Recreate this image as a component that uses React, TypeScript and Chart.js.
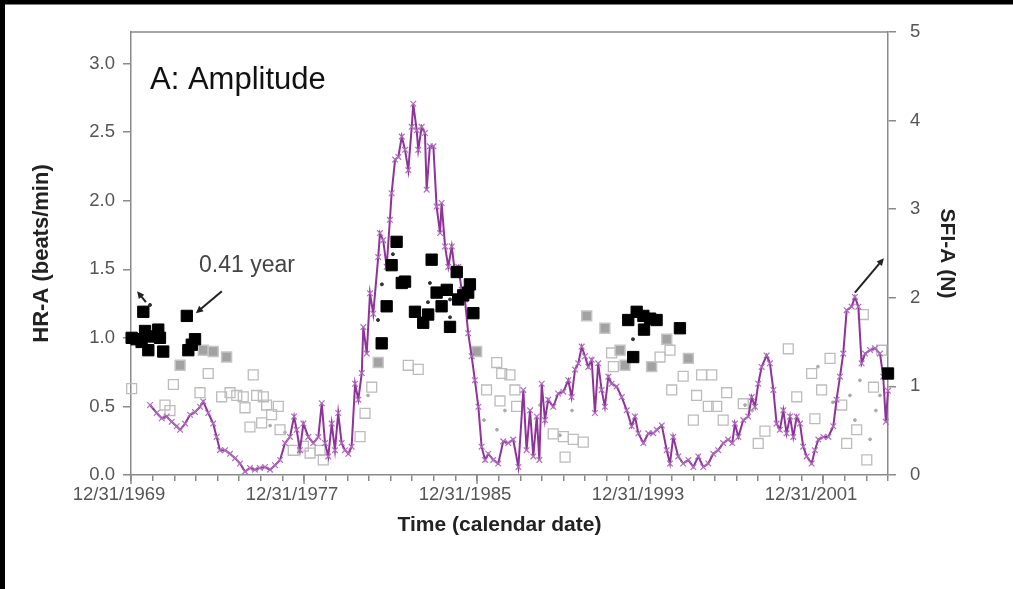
import { useEffect, useRef } from "react";
import { Chart, registerables } from "chart.js";

Chart.register(...registerables);

// SFI-A amplitude (right axis, N) – purple line
const sfiYears = [
  1970.88, 1971.19, 1971.42, 1971.65, 1971.88, 1972.11, 1972.27, 1972.5, 1972.73, 1972.96,
  1973.19, 1973.34, 1973.57, 1973.8, 1973.96, 1974.11, 1974.35, 1974.58, 1974.81, 1975.04,
  1975.27, 1975.5, 1975.73, 1975.96, 1976.2, 1976.43, 1976.66, 1976.89, 1977.12, 1977.35,
  1977.54, 1977.66, 1977.81, 1977.97, 1978.2, 1978.43, 1978.66, 1978.82, 1978.97, 1979.12,
  1979.28, 1979.43, 1979.58, 1979.74, 1979.89, 1980.05, 1980.2, 1980.36, 1980.51, 1980.67,
  1980.74, 1980.9, 1981.05, 1981.2, 1981.43, 1981.51, 1981.66, 1981.82, 1981.97, 1982.05,
  1982.21, 1982.36, 1982.52, 1982.67, 1982.82, 1982.98, 1983.05, 1983.21, 1983.28, 1983.44,
  1983.59, 1983.67, 1983.82, 1983.98, 1984.13, 1984.29, 1984.36, 1984.52, 1984.67, 1984.83,
  1984.98, 1985.13, 1985.29, 1985.44, 1985.59, 1985.75, 1985.9, 1986.06, 1986.21, 1986.37,
  1986.52, 1986.75, 1986.98, 1987.21, 1987.44, 1987.67, 1987.91, 1988.14, 1988.29, 1988.45,
  1988.6, 1988.76, 1988.88, 1988.99, 1989.14, 1989.29, 1989.52, 1989.75, 1989.99, 1990.22,
  1990.37, 1990.53, 1990.68, 1990.84, 1990.99, 1991.14, 1991.3, 1991.45, 1991.6, 1991.76,
  1991.91, 1992.07, 1992.22, 1992.45, 1992.69, 1992.92, 1993.15, 1993.3, 1993.46, 1993.69,
  1993.92, 1994.15, 1994.31, 1994.54, 1994.77, 1994.92, 1995.07, 1995.3, 1995.53, 1995.77,
  1996.0, 1996.23, 1996.46, 1996.69, 1996.92, 1997.15, 1997.38, 1997.61, 1997.8, 1997.92,
  1998.08, 1998.31, 1998.54, 1998.7, 1998.85, 1999.0, 1999.16, 1999.39, 1999.54, 1999.7,
  1999.85, 2000.0, 2000.16, 2000.31, 2000.47, 2000.62, 2000.78, 2000.93, 2001.08, 2001.24,
  2001.47, 2001.62, 2001.78, 2002.01, 2002.24, 2002.47, 2002.62, 2002.78, 2002.93, 2003.09,
  2003.32, 2003.47, 2003.63, 2003.78, 2003.94, 2004.17, 2004.4, 2004.63, 2004.78, 2004.9,
  2005.0,
];
const sfiValues = [
  0.79, 0.7, 0.64, 0.66, 0.6, 0.55, 0.51, 0.58, 0.68, 0.71,
  0.77, 0.83, 0.7, 0.58, 0.43, 0.28, 0.28, 0.24, 0.19, 0.13,
  0.04, 0.08, 0.06, 0.08, 0.09, 0.06, 0.11, 0.17, 0.36, 0.43,
  0.66, 0.51, 0.28, 0.58, 0.43, 0.36, 0.43, 0.81, 0.36, 0.21,
  0.58, 0.28, 0.7, 0.36, 0.28, 0.24, 0.32, 1.03, 0.85, 1.15,
  1.67, 1.37, 2.05, 1.82, 2.46, 2.73, 2.65, 2.35, 2.88, 3.18,
  3.56, 3.59, 3.82, 3.67, 3.44, 3.93, 4.19, 3.89, 3.67, 3.93,
  3.86, 3.22, 3.71, 3.71, 3.03, 2.73, 3.07, 2.58, 2.35, 2.58,
  2.28, 2.35, 2.09, 1.98, 1.6, 1.34, 1.07, 0.77, 0.32, 0.17,
  0.24, 0.17, 0.13, 0.38, 0.36, 0.4, 0.09, 0.96, 0.28, 0.73,
  0.21, 0.66, 0.17, 1.03, 0.62, 0.85, 0.77, 0.92, 0.94, 1.07,
  0.88, 1.19, 1.26, 1.45, 1.34, 1.22, 1.3, 0.7, 1.26, 0.96,
  0.77, 1.11, 1.03, 1.0, 0.88, 0.73, 0.55, 0.66, 0.47, 0.36,
  0.47, 0.47, 0.51, 0.56, 0.28, 0.13, 0.43, 0.21, 0.13, 0.17,
  0.09, 0.21, 0.09, 0.13, 0.24, 0.28, 0.36, 0.4, 0.36, 0.58,
  0.43, 0.62, 0.66, 0.88, 0.77, 1.03, 1.22, 1.35, 1.26, 0.96,
  0.58, 0.51, 0.73, 0.47, 0.66, 0.43, 0.66, 0.58, 0.32, 0.21,
  0.13, 0.28, 0.4, 0.43, 0.43, 0.55, 0.85, 1.11, 1.37, 1.86,
  1.9, 2.01, 1.9, 1.26, 1.37, 1.41, 1.43, 1.37, 1.11, 0.6,
  0.95,
];

// HR-A amplitude (left axis, beats/min) – significant periods, black squares
const hrBlackYears = [
  1970.03, 1970.26, 1970.49, 1970.57, 1970.65, 1970.8, 1970.96, 1971.26, 1971.34, 1971.49,
  1972.58, 1972.65, 1972.81, 1972.96, 1981.59, 1981.82, 1982.05, 1982.28, 1982.52, 1982.67,
  1983.13, 1983.51, 1983.74, 1983.9, 1984.13, 1984.36, 1984.6, 1984.75, 1985.06, 1985.13,
  1985.36, 1985.59, 1985.67, 1985.83, 1992.99, 1993.22, 1993.38, 1993.69, 1993.72, 1994.0,
  1994.3, 1995.38, 2005.0,
];
const hrBlackValues = [
  1.0, 0.99, 0.97, 1.19, 1.05, 0.91, 1.01, 1.06, 1.0, 0.9,
  1.16, 0.91, 0.95, 0.99, 0.96, 1.23, 1.53, 1.7, 1.4, 1.41,
  1.19, 1.11, 1.17, 1.57, 1.33, 1.23, 1.35, 1.08, 1.48, 1.28,
  1.31, 1.33, 1.39, 1.18, 1.13, 0.86, 1.19, 1.16, 1.06, 1.14,
  1.13, 1.07, 0.74,
];

// HR-A – grey filled squares
const hrGreyYears = [
  1972.27, 1973.34, 1973.8, 1974.42, 1981.43, 1985.98, 1991.07, 1991.91, 1992.61, 1992.84,
  1994.07, 1994.77, 1995.77,
];
const hrGreyValues = [
  0.8, 0.91, 0.9, 0.86, 0.82, 0.9, 1.16, 1.07, 0.91, 0.8,
  0.79, 0.99, 0.85,
];

// HR-A – open squares
const hrOpenYears = [
  1970.03, 1971.96, 1971.57, 1971.8, 1973.19, 1973.57, 1974.19, 1974.58, 1974.89, 1975.19,
  1975.27, 1975.65, 1975.81, 1976.12, 1976.27, 1976.5, 1976.81, 1975.5, 1976.04, 1976.89,
  1977.5, 1977.97, 1978.28, 1978.74, 1978.89, 1980.59, 1980.82, 1981.13, 1982.82, 1983.28,
  1986.44, 1986.91, 1987.14, 1987.52, 1987.06, 1987.75, 1987.83, 1989.52, 1989.99, 1990.07,
  1990.45, 1990.91, 1992.22, 1992.3, 1994.46, 1994.92, 1995.0, 1995.53, 1996.0, 1996.15,
  1996.38, 1996.69, 1996.85, 1997.08, 1997.38, 1997.54, 1998.31, 1999.0, 1999.31, 2000.39,
  2000.78, 2001.47, 2001.62, 2001.93, 2002.32, 2002.86, 2003.09, 2003.55, 2003.86, 2004.02,
  2004.33, 2004.71,
];
const hrOpenValues = [
  0.63, 0.66, 0.51, 0.47, 0.6, 0.74, 0.57, 0.6, 0.58, 0.57,
  0.49, 0.73, 0.58, 0.57, 0.51, 0.44, 0.5, 0.35, 0.38, 0.33,
  0.18, 0.21, 0.16, 0.18, 0.11, 0.28, 0.45, 0.64, 0.8, 0.77,
  0.62, 0.82, 0.74, 0.73, 0.54, 0.62, 0.5, 0.3, 0.28, 0.13,
  0.26, 0.24, 0.89, 0.79, 0.86, 0.91, 0.62, 0.72, 0.4, 0.58,
  0.73, 0.5, 0.73, 0.5, 0.4, 0.6, 0.52, 0.23, 0.32, 0.92,
  0.57, 0.74, 0.41, 0.62, 0.85, 0.51, 0.23, 0.33, 1.17, 0.11,
  0.64, 0.91,
];

// HR-A – small dots
const hrDotDarkYears = [1970.88, 1981.42, 1981.6, 1982.11, 1983.73, 1983.82, 1984.75, 1984.75, 1993.21];
const hrDotDarkValues = [1.24, 1.13, 1.39, 1.61, 1.26, 1.4, 1.15, 1.28, 0.99];
const hrDotLightYears = [
  1976.43, 1977.12, 1980.96, 1986.32, 1986.92, 1987.29, 1988.91, 1989.83, 1990.39, 1998.39,
  1998.72, 2001.76, 2002.45, 2003.24, 2003.47, 2003.7, 2004.17, 2004.44, 2004.63,
];
const hrDotLightValues = [
  0.36, 0.31, 0.58, 0.4, 0.33, 0.47, 0.51, 0.29, 0.47, 0.51,
  0.47, 0.79, 0.53, 0.58, 0.4, 0.69, 0.26, 0.47, 0.58,
];

// Axis ticks
const xTickYears = [1970, 1978, 1986, 1994, 2002];
const xTickLabels = ["12/31/1969", "12/31/1977", "12/31/1985", "12/31/1993", "12/31/2001"];
const xMin = 1970;
const xMax = 2005;

const FONT = "'Liberation Sans', Arial, Helvetica, sans-serif";

const pts = (xs: number[], ys: number[]) => xs.map((x, i) => ({ x, y: ys[i] }));

function drawArrow(ctx: CanvasRenderingContext2D, x1: number, y1: number, x2: number, y2: number) {
  const ang = Math.atan2(y2 - y1, x2 - x1);
  const head = 8;
  ctx.beginPath();
  ctx.moveTo(x1, y1);
  ctx.lineTo(x2 - Math.cos(ang) * head * 0.6, y2 - Math.sin(ang) * head * 0.6);
  ctx.stroke();
  ctx.beginPath();
  ctx.moveTo(x2, y2);
  ctx.lineTo(x2 - head * Math.cos(ang - 0.45), y2 - head * Math.sin(ang - 0.45));
  ctx.lineTo(x2 - head * Math.cos(ang + 0.45), y2 - head * Math.sin(ang + 0.45));
  ctx.closePath();
  ctx.fill();
}

const decorations = {
  id: "decorations",
  beforeDraw(chart: any) {
    const { ctx, width, height } = chart;
    ctx.save();
    ctx.fillStyle = "#ffffff";
    ctx.fillRect(0, 0, width, height);
    ctx.fillStyle = "#000000";
    ctx.fillRect(0, 0, width, 4.5);
    ctx.fillRect(0, 0, 5, height);
    ctx.restore();
  },
  afterDraw(chart: any) {
    const { ctx, chartArea: a } = chart;
    const xs = chart.scales.x;
    const yl = chart.scales.y;
    const px = (v: number) => xs.getPixelForValue(v);
    const py = (v: number) => yl.getPixelForValue(v);
    ctx.save();
    // major x ticks are a little longer than the yearly ones
    ctx.strokeStyle = "#8a8a8a";
    ctx.lineWidth = 1.5;
    for (const v of xTickYears) {
      const x = px(v);
      ctx.beginPath();
      ctx.moveTo(x, a.bottom);
      ctx.lineTo(x, a.bottom + 9);
      ctx.stroke();
    }
    // top frame line
    ctx.beginPath();
    ctx.moveTo(a.left, a.top);
    ctx.lineTo(a.right, a.top);
    ctx.stroke();

    // x-axis title
    ctx.fillStyle = "#222";
    ctx.font = `bold 21px ${FONT}`;
    ctx.textAlign = "center";
    ctx.textBaseline = "middle";
    ctx.fillText("Time (calendar date)", (a.left + a.right) / 2 - 10, a.bottom + 50);

    // panel label
    ctx.fillStyle = "#111";
    ctx.font = `31px ${FONT}`;
    ctx.textAlign = "left";
    ctx.fillText("A: Amplitude", a.left + 19, a.top + 48);

    // period annotation
    ctx.fillStyle = "#444";
    ctx.font = `23px ${FONT}`;
    ctx.textAlign = "center";
    ctx.fillText("0.41 year", px(1975.36), py(1.53));

    ctx.strokeStyle = "#222";
    ctx.fillStyle = "#222";
    ctx.lineWidth = 2;
    drawArrow(ctx, px(1974.2), py(1.34), px(1973.0), py(1.18));
    drawArrow(ctx, px(1970.69), py(1.26), px(1970.28), py(1.34));
    drawArrow(ctx, px(2003.47), py(1.33), px(2004.81), py(1.58));
    ctx.restore();
  },
};

export default function App() {
  const ref = useRef<HTMLCanvasElement | null>(null);

  useEffect(() => {
    if (!ref.current) return;
    const tickFont = { family: FONT, size: 18.5 };
    const titleFont = { family: FONT, size: 22, weight: "bold" as const };
    const axisGrey = "#8a8a8a";

    const chart = new Chart(ref.current, {
      type: "scatter",
      data: {
        datasets: [
          {
            label: "HR-A significant",
            data: pts(hrBlackYears, hrBlackValues),
            yAxisID: "y",
            pointStyle: "rect",
            pointRadius: 8,
            backgroundColor: "#000",
            borderColor: "#000",
            pointBorderWidth: 1,
            clip: false,
            order: 0,
          },
          {
            label: "HR-A small dark",
            data: pts(hrDotDarkYears, hrDotDarkValues),
            yAxisID: "y",
            pointStyle: "circle",
            pointRadius: 1.5,
            backgroundColor: "#333",
            borderColor: "#333",
            order: 1,
          },
          {
            label: "SFI-A",
            data: pts(sfiYears, sfiValues),
            yAxisID: "y1",
            showLine: true,
            borderColor: "#8e3499",
            borderWidth: 2,
            pointStyle: "crossRot",
            pointRadius: 4,
            pointBorderWidth: 1.2,
            pointBorderColor: "#b06cc0",
            backgroundColor: "#b06cc0",
            clip: false,
            order: 2,
          },
          {
            label: "HR-A grey",
            data: pts(hrGreyYears, hrGreyValues),
            yAxisID: "y",
            pointStyle: "rect",
            pointRadius: 7,
            backgroundColor: "#a2a2a2",
            borderColor: "#c4c4c4",
            pointBorderWidth: 1.5,
            order: 3,
          },
          {
            label: "HR-A open",
            data: pts(hrOpenYears, hrOpenValues),
            yAxisID: "y",
            pointStyle: "rect",
            pointRadius: 7,
            backgroundColor: "rgba(255,255,255,0)",
            borderColor: "#bcbcbc",
            pointBorderWidth: 1.3,
            clip: false,
            order: 4,
          },
          {
            label: "HR-A small light",
            data: pts(hrDotLightYears, hrDotLightValues),
            yAxisID: "y",
            pointStyle: "circle",
            pointRadius: 1.4,
            backgroundColor: "#aaa",
            borderColor: "#aaa",
            order: 5,
          },
        ],
      },
      options: {
        responsive: false,
        animation: false,
        devicePixelRatio: 1,
        layout: { padding: { top: 32, left: 0, right: 0, bottom: 0 } },
        plugins: { legend: { display: false }, tooltip: { enabled: false } },
        scales: {
          x: {
            type: "linear",
            min: xMin,
            max: xMax,
            afterBuildTicks: (axis: any) => {
              const ticks = [];
              for (let v = xMin; v <= xMax; v++) ticks.push({ value: v });
              axis.ticks = ticks;
            },
            afterFit: (s: any) => {
              s.height = 114;
            },
            ticks: {
              autoSkip: false,
              maxRotation: 0,
              minRotation: 0,
              labelOffset: -12,
              padding: 3,
              color: "#555",
              font: tickFont,
              callback: (v: any) => {
                const i = xTickYears.indexOf(Number(v));
                return i >= 0 ? xTickLabels[i] : "";
              },
            },
            grid: { drawOnChartArea: false, tickLength: 6, tickColor: axisGrey, lineWidth: 1.5 },
            border: { color: axisGrey, width: 1.5 },
            title: { display: false },
          },
          y: {
            position: "left",
            min: 0,
            max: 3.23,
            afterFit: (s: any) => {
              s.width = 131;
            },
            ticks: {
              stepSize: 0.5,
              includeBounds: false,
              padding: 8,
              color: "#555",
              font: tickFont,
              callback: (v: any) => Number(v).toFixed(1),
            },
            grid: { drawOnChartArea: false, tickLength: 8, tickColor: axisGrey, lineWidth: 1.5 },
            border: { color: axisGrey, width: 1.5 },
            title: {
              display: true,
              text: "HR-A (beats/min)",
              color: "#222",
              font: titleFont,
              padding: 29,
            },
          },
          y1: {
            position: "right",
            min: 0,
            max: 5,
            afterFit: (s: any) => {
              s.width = 125;
            },
            ticks: {
              stepSize: 1,
              padding: 14,
              color: "#555",
              font: tickFont,
            },
            grid: { drawOnChartArea: false, tickLength: 8, tickColor: axisGrey, lineWidth: 1.5 },
            border: { color: axisGrey, width: 1.5 },
            title: {
              display: true,
              text: "SFI-A (N)",
              color: "#222",
              font: { family: FONT, size: 21, weight: "bold" as const },
              padding: 54,
            },
          },
        },
      },
      plugins: [decorations],
    });
    return () => chart.destroy();
  }, []);

  return (
    <div style={{ position: "fixed", left: 0, top: 0, width: 1013, height: 589, background: "#fff" }}>
      <canvas ref={ref} width={1013} height={589} style={{ display: "block" }} />
    </div>
  );
}
